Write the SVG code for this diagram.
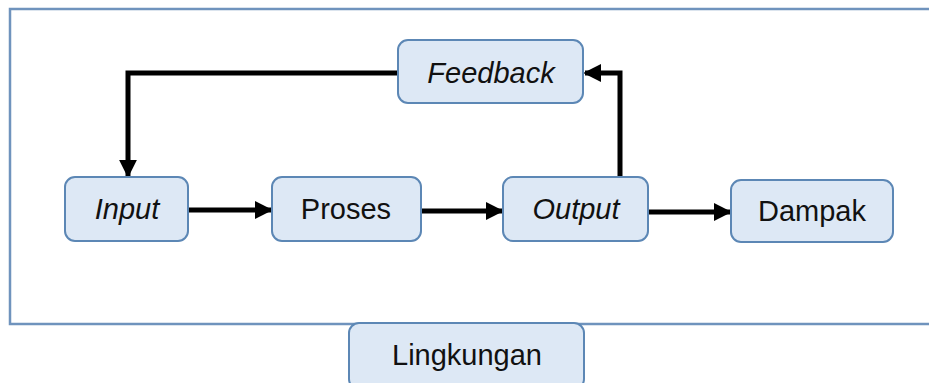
<svg xmlns="http://www.w3.org/2000/svg" width="929" height="383" viewBox="0 0 929 383">
<style>
.box{fill:#dde8f5;stroke:#5c87b5;stroke-width:2}
.lbl{font-family:"Liberation Sans",Arial,sans-serif;font-size:29px;fill:#111;text-anchor:middle}
.it{font-style:italic}
.conn{fill:none;stroke:#000;stroke-width:5}
</style>
<defs>
<marker id="ah" viewBox="0 0 10 10" refX="9" refY="5" markerWidth="3.6" markerHeight="3.6" orient="auto" markerUnits="strokeWidth">
<path d="M0,0 L10,5 L0,10 z" fill="#000"/>
</marker>
</defs>
<rect width="929" height="383" fill="#fff"/>
<path d="M935,9 H10 V324 H935" fill="none" stroke="#6f93bd" stroke-width="2.5"/>
<g id="connectors">
<path class="conn" d="M398,73 H128 V176" marker-end="url(#ah)"/>
<path class="conn" d="M620,177 V73 H585" marker-end="url(#ah)"/>
<path class="conn" d="M188,210 H271" marker-end="url(#ah)"/>
<path class="conn" d="M421,211 H502" marker-end="url(#ah)"/>
<path class="conn" d="M648,212 H730" marker-end="url(#ah)"/>
</g>
<g id="feedback"><rect class="box" x="398" y="40" width="185" height="63" rx="10"/><text class="lbl it" x="491" y="83">Feedback</text></g>
<g id="input"><rect class="box" x="65" y="177" width="123" height="64" rx="10"/><text class="lbl it" x="127" y="219">Input</text></g>
<g id="proses"><rect class="box" x="272" y="177" width="149" height="64" rx="10"/><text class="lbl" x="346" y="219">Proses</text></g>
<g id="output"><rect class="box" x="503" y="177" width="145" height="64" rx="10"/><text class="lbl it" x="576" y="219">Output</text></g>
<g id="dampak"><rect class="box" x="731" y="180" width="162" height="62" rx="10"/><text class="lbl" x="812" y="221">Dampak</text></g>
<g id="lingkungan"><rect class="box" x="349" y="323" width="235" height="66" rx="10"/><text class="lbl" x="467" y="365">Lingkungan</text></g>
</svg>
